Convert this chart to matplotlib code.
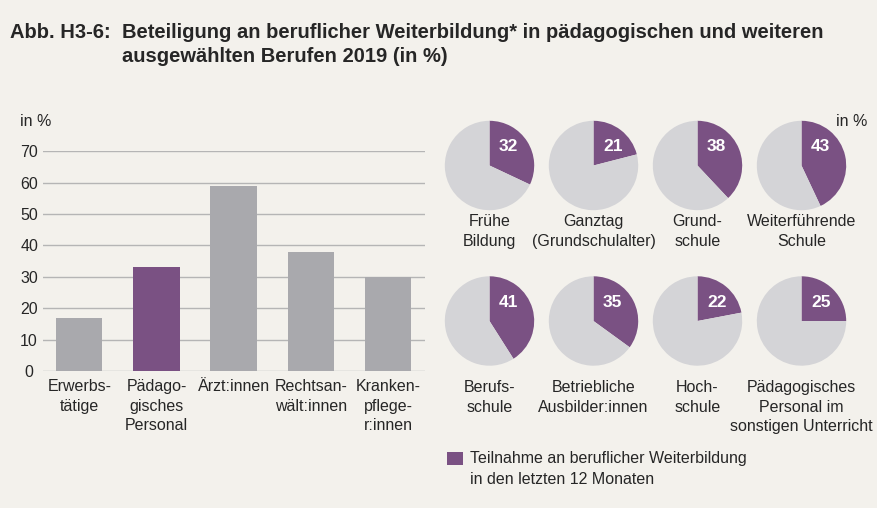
import matplotlib
matplotlib.use("Agg")
import matplotlib.pyplot as plt
from matplotlib import font_manager
from matplotlib.patches import Rectangle

W, H = 877, 508

bar_labels = ["Erwerbs-\ntätige", "Pädago-\ngisches\nPersonal", "Ärzt:innen",
              "Rechtsan-\nwält:innen", "Kranken-\npflege-\nr:innen"]
bar_values = [17, 33, 59, 38, 30]
bar_highlight = [False, True, False, False, False]

pie_labels_top = ["Frühe\nBildung", "Ganztag\n(Grundschulalter)", "Grund-\nschule",
                  "Weiterführende\nSchule"]
pie_values_top = [32, 21, 38, 43]
pie_labels_bottom = ["Berufs-\nschule", "Betriebliche\nAusbilder:innen", "Hoch-\nschule",
                     "Pädagogisches\nPersonal im\nsonstigen Unterricht"]
pie_values_bottom = [41, 35, 22, 25]

BG = "#f3f1ec"
PURPLE = "#7a5183"
BAR_GREY = "#a9a9ad"
PIE_GREY = "#d4d4d7"
GRID = "#b5b5b5"
TEXT = "#262626"

# narrow sans if available, otherwise fall back
installed = {f.name for f in font_manager.fontManager.ttflist}
font = next((n for n in ["Liberation Sans Narrow", "DejaVu Sans Condensed", "Liberation Sans"]
             if n in installed), "DejaVu Sans")
plt.rcParams["font.family"] = [font, "DejaVu Sans"]
plt.rcParams["text.color"] = TEXT


def fy(y):
    return 1 - y / H


fig = plt.figure(figsize=(W / 100, H / 100), dpi=100, facecolor=BG)

# title
fig.text(10 / W, fy(33), "Abb. H3-6:", fontsize=14.5, fontweight="bold", va="center")
fig.text(122 / W, fy(33), "Beteiligung an beruflicher Weiterbildung* in pädagogischen und weiteren",
         fontsize=14.5, fontweight="bold", va="center")
fig.text(122 / W, fy(57), "ausgewählten Berufen 2019 (in %)",
         fontsize=14.5, fontweight="bold", va="center")

# bar chart
ax = fig.add_axes([43 / W, fy(371), 382 / W, 219.7 / H])
ax.set_facecolor(BG)
x = range(len(bar_values))
colors = [PURPLE if h else BAR_GREY for h in bar_highlight]
ax.bar(x, bar_values, width=0.6, color=colors, zorder=2)
ax.set_xlim(-0.47, 4.48)
ax.set_ylim(0, 70)
ax.set_yticks(range(0, 71, 10))
ax.yaxis.grid(True, color=GRID, lw=1.0)
ax.set_axisbelow(True)
for s in ax.spines.values():
    s.set_visible(False)
ax.set_xticks(list(x))
ax.set_xticklabels(bar_labels, fontsize=11.5, linespacing=1.38)
ax.tick_params(axis="both", length=0, colors=TEXT)
ax.tick_params(axis="x", pad=6)
ax.tick_params(axis="y", pad=10, labelsize=11.5)
for t in ax.get_yticklabels():
    t.set_ha("center")
fig.text(20 / W, fy(122), "in %", fontsize=11.5, va="center")

# pies
r = 44.7
centers_x = [489.5, 593.5, 697.5, 801.5]
rows = [(165.5, pie_values_top, pie_labels_top, 214),
        (321.0, pie_values_bottom, pie_labels_bottom, 380)]
for cy, values, labels, label_y in rows:
    for cx, v, lab in zip(centers_x, values, labels):
        pax = fig.add_axes([(cx - r) / W, fy(cy + r), 2 * r / W, 2 * r / H])
        pax.pie([v, 100 - v], colors=[PURPLE, PIE_GREY], startangle=90,
                counterclock=False, radius=1, wedgeprops=dict(linewidth=0))
        pax.set_xlim(-1, 1)
        pax.set_ylim(-1, 1)
        pax.set_aspect("equal")
        pax.axis("off")
        pax.text(0.43, 0.42, str(v), color="white", fontsize=12.5, fontweight="bold",
                 ha="center", va="center")
        fig.text(cx / W, fy(label_y), lab, fontsize=11.5, ha="center", va="top",
                 linespacing=1.38)

fig.text(867 / W, fy(122), "in %", fontsize=11.5, ha="right", va="center")

# legend
fig.add_artist(Rectangle((447 / W, fy(465)), 16 / W, 13 / H, transform=fig.transFigure,
                         color=PURPLE, lw=0))
fig.text(470 / W, fy(458), "Teilnahme an beruflicher Weiterbildung", fontsize=11.5, va="center")
fig.text(470 / W, fy(480), "in den letzten 12 Monaten", fontsize=11.5, va="center")

fig.savefig("out.png", dpi=100, facecolor=BG)
